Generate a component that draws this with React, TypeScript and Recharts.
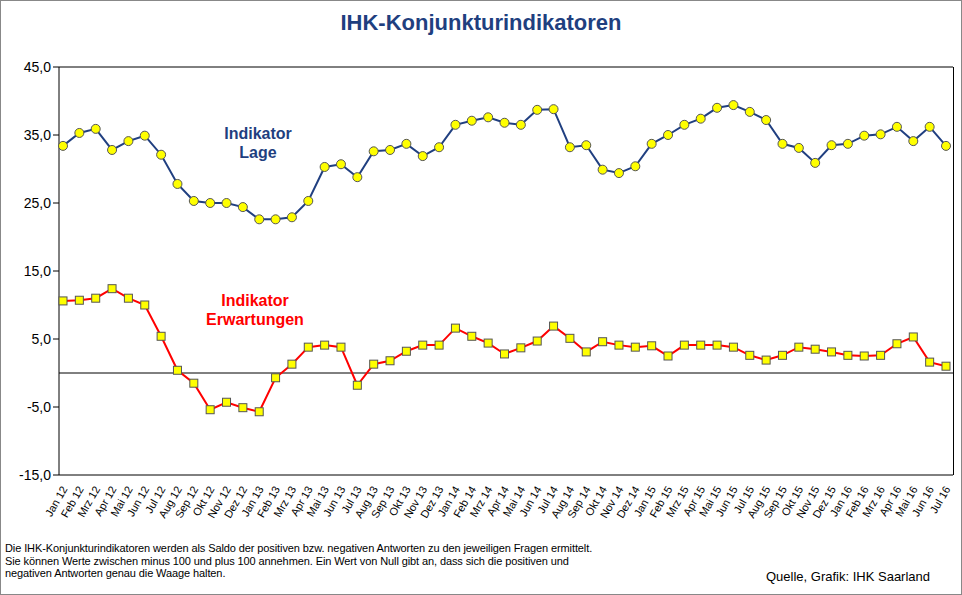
import { LineChart, Line, XAxis, YAxis, ReferenceLine } from 'recharts';

const months = ['Jan', 'Feb', 'Mrz', 'Apr', 'Mai', 'Jun', 'Jul', 'Aug', 'Sep', 'Okt', 'Nov', 'Dez'];
const categories: string[] = [];
for (let y = 12; y <= 16; y++) {
  for (let m = 0; m < 12; m++) {
    if (y === 16 && m > 6) break;
    categories.push(`${months[m]} ${y}`);
  }
}

const lage = [
  33.4, 35.3, 35.9, 32.8, 34.1, 34.9, 32.1, 27.8, 25.3, 25.0, 25.0, 24.4,
  22.6, 22.6, 22.9, 25.3, 30.3, 30.7, 28.8, 32.6, 32.8, 33.7, 31.9, 33.2,
  36.5, 37.1, 37.6, 36.8, 36.5, 38.7, 38.8, 33.2, 33.5, 29.9, 29.4, 30.4,
  33.7, 35.0, 36.5, 37.4, 39.0, 39.4, 38.4, 37.2, 33.7, 33.1, 30.9, 33.5,
  33.7, 34.9, 35.1, 36.2, 34.1, 36.2, 33.4,
];

const erwartungen = [
  10.6, 10.7, 11.0, 12.4, 11.0, 10.0, 5.4, 0.4, -1.5, -5.4, -4.3, -5.1,
  -5.7, -0.7, 1.3, 3.8, 4.1, 3.8, -1.8, 1.3, 1.8, 3.2, 4.1, 4.1,
  6.6, 5.4, 4.4, 2.8, 3.7, 4.7, 6.9, 5.1, 3.1, 4.6, 4.1, 3.8,
  4.0, 2.5, 4.1, 4.1, 4.1, 3.8, 2.6, 1.9, 2.6, 3.8, 3.5, 3.1,
  2.6, 2.5, 2.6, 4.3, 5.3, 1.6, 1.0,
];

const yTicks = [-15, -5, 5, 15, 25, 35, 45];

const data = categories.map((c, i) => ({ name: c, lage: lage[i], erw: erwartungen[i] }));

const font = '"Liberation Sans", Arial, sans-serif';

export default function App() {
  return (
    <div style={{ position: 'absolute', left: 0, top: 0, width: 962, height: 595, fontFamily: font, background: '#fff' }}>
      <div style={{ position: 'absolute', left: 0, top: 0, width: 960, height: 593, border: '1px solid #888' }} />
      <div style={{ position: 'absolute', left: 0, top: 10, width: 962, textAlign: 'center', fontSize: 22, fontWeight: 'bold', color: '#1f3f7f' }}>
        IHK-Konjunkturindikatoren
      </div>
      <LineChart width={962} height={595} data={data} margin={{ top: 67, right: 9, bottom: 60, left: 0 }}>
        <XAxis
          dataKey="name"
          interval={0}
          height={60}
          padding={{ left: 4, right: 7 }}
          tickLine={false}
          axisLine={{ stroke: '#000' }}
          tick={{ fontSize: 11, fill: '#000', angle: -60, textAnchor: 'end', dy: 2, dx: -2 } as any}
        />
        <YAxis
          width={59}
          domain={[-15, 45]}
          ticks={yTicks}
          interval={0}
          tickFormatter={(v: number) => v.toFixed(1).replace('.', ',')}
          tickLine={{ stroke: '#000' }}
          axisLine={{ stroke: '#000' }}
          tick={{ fontSize: 14, fill: '#000' }}
        />
        <ReferenceLine y={0} stroke="#000" />
        <ReferenceLine y={45} stroke="#000" />
        <Line
          dataKey="lage"
          stroke="#203f80"
          strokeWidth={2}
          isAnimationActive={false}
          dot={{ r: 4.5, fill: '#ffff00', stroke: '#555', strokeWidth: 1 }}
        />
        <Line
          dataKey="erw"
          stroke="#ff0000"
          strokeWidth={2}
          isAnimationActive={false}
          dot={(p: any) => (
            <rect key={p.index} x={p.cx - 4} y={p.cy - 4} width={8} height={8} fill="#ffff00" stroke="#555" strokeWidth={1} />
          )}
        />
      </LineChart>
      <div style={{ position: 'absolute', left: 953, top: 67, width: 1, height: 408, background: '#000' }} />
      <div style={{ position: 'absolute', left: 208, top: 124, width: 100, textAlign: 'center', fontSize: 16, fontWeight: 'bold', color: '#1f3f7f', lineHeight: '19px' }}>
        Indikator<br />Lage
      </div>
      <div style={{ position: 'absolute', left: 190, top: 291, width: 130, textAlign: 'center', fontSize: 16, fontWeight: 'bold', color: '#ff0000', lineHeight: '19px' }}>
        Indikator<br />Erwartungen
      </div>
      <div style={{ position: 'absolute', left: 5, top: 542, width: 590, fontSize: 11, lineHeight: '12.5px', color: '#000', letterSpacing: '-0.1px' }}>
        Die IHK-Konjunkturindikatoren werden als Saldo der positiven bzw. negativen Antworten zu den jeweiligen Fragen ermittelt. Sie können Werte zwischen minus 100 und plus 100 annehmen. Ein Wert von Null gibt an, dass sich die positiven und negativen Antworten genau die Waage halten.
      </div>
      <div style={{ position: 'absolute', left: 766, top: 569, fontSize: 13, color: '#000' }}>
        Quelle, Grafik: IHK Saarland
      </div>
    </div>
  );
}
